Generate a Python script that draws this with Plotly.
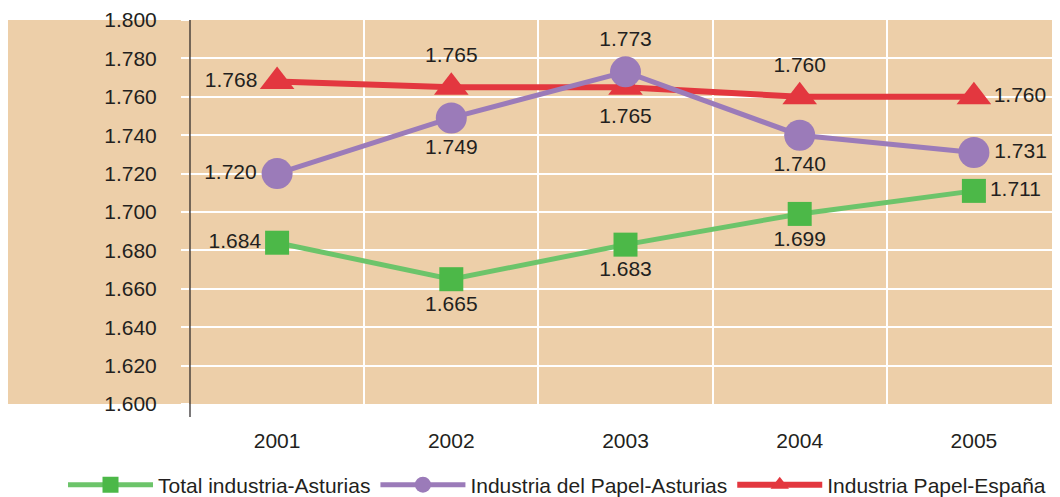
import plotly.graph_objects as go

years = ["2001", "2002", "2003", "2004", "2005"]
total_asturias = [1684, 1665, 1683, 1699, 1711]
papel_asturias = [1720, 1749, 1773, 1740, 1731]
papel_espana = [1768, 1765, 1765, 1760, 1760]

pos_total = ["middle left", "bottom center", "bottom center", "bottom center", "middle right"]
pos_pa = ["middle left", "bottom center", "top center", "bottom center", "middle right"]
pos_pe = ["middle left", "top center", "bottom center", "top center", "middle right"]

y_ticks = list(range(1600, 1801, 20))

FONT = "Liberation Sans, Arial, sans-serif"
TXT = "#231F20"
FS = 21

x = list(range(len(years)))

def fmt(v):
    return f"{v:,}".replace(",", ".")

fig = go.Figure()

fig.add_trace(go.Scatter(
    x=x, y=total_asturias, name="Total industria-Asturias", mode="lines+markers+text",
    line=dict(color="#6CC46A", width=5),
    marker=dict(symbol="square", size=24, color="#4CB848"),
    text=[fmt(v) for v in total_asturias], textposition=pos_total,
    textfont=dict(family=FONT, size=FS, color=TXT), legendrank=1,
))
fig.add_trace(go.Scatter(
    x=x, y=papel_espana, name="Industria Papel-España", mode="lines+markers+text",
    line=dict(color="#E3373F", width=6),
    marker=dict(symbol="triangle-up", size=30, color="#E3373F"),
    text=[fmt(v) for v in papel_espana], textposition=pos_pe,
    textfont=dict(family=FONT, size=FS, color=TXT), legendrank=3,
))
fig.add_trace(go.Scatter(
    x=x, y=papel_asturias, name="Industria del Papel-Asturias", mode="lines+markers+text",
    line=dict(color="#9B7BB9", width=5),
    marker=dict(symbol="circle", size=31, color="#9B7BB9"),
    text=[fmt(v) for v in papel_asturias], textposition=pos_pa,
    textfont=dict(family=FONT, size=FS, color=TXT), legendrank=2,
))

fig.update_layout(
    width=1060, height=497,
    margin=dict(l=182, r=7, t=12, b=101, autoexpand=False),
    paper_bgcolor="white", plot_bgcolor="rgba(0,0,0,0)",
    separators=",.",
    font=dict(family=FONT, size=FS, color=TXT),
    showlegend=True,
    legend=dict(orientation="h", x=-0.1458, xanchor="left", y=-0.211, yanchor="middle",
                itemwidth=85, font=dict(family=FONT, size=FS, color=TXT),
                traceorder="normal", bgcolor="rgba(0,0,0,0)"),
    shapes=[
        dict(type="rect", xref="paper", yref="paper", x0=-182/871, x1=1.02, y0=0, y1=1,
             fillcolor="#EDCFA9", line=dict(width=0), layer="below"),
        dict(type="line", xref="paper", yref="paper", x0=0, x1=0, y0=-13/384, y1=1,
             line=dict(color=TXT, width=1.2), layer="above"),
    ],
)

fig.update_xaxes(
    range=[-0.5, 4.5], tickvals=x, ticktext=years, showgrid=False, automargin=False,
    ticks="", ticklabelstandoff=22, zeroline=False, showline=False,
    minor=dict(tick0=0.5, dtick=1, showgrid=True, gridcolor="white", gridwidth=1.5, ticks=""),
    tickfont=dict(family=FONT, size=FS, color=TXT),
)
fig.update_yaxes(
    range=[1600, 1800], tickvals=y_ticks, tickformat=",d", showgrid=True, automargin=False,
    gridcolor="white", gridwidth=1.5, ticks="outside", ticklen=8, tickcolor="white",
    tickwidth=1.5, ticklabelstandoff=20, zeroline=False, showline=False,
    tickfont=dict(family=FONT, size=FS, color=TXT),
)

fig.write_html("out.html")
